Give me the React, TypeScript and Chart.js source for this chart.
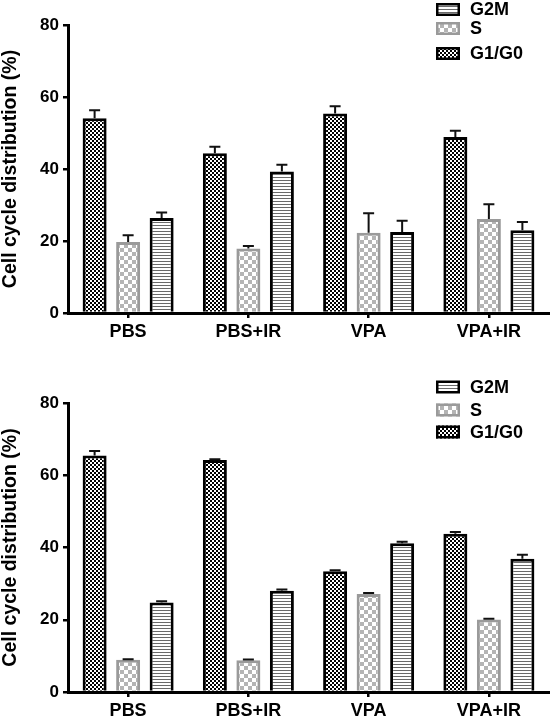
import React, { useEffect, useRef } from "react";
import { Chart, registerables } from "chart.js";

Chart.register(...registerables);

const categories = ["PBS", "PBS+IR", "VPA", "VPA+IR"];
const seriesNames = ["G1/G0", "S", "G2M"];
const yTicks = [0, 20, 40, 60, 80];
const yTitle = "Cell cycle distribution (%)";

// Upper panel
const topG1 = [54.1, 44.4, 55.4, 48.9];
const topG1Err = [2.2, 1.8, 2.0, 1.7];
const topS = [19.7, 17.9, 22.3, 26.1];
const topSErr = [1.9, 0.7, 5.4, 4.1];
const topG2M = [26.4, 39.3, 22.5, 23.0];
const topG2MErr = [1.5, 1.9, 3.1, 2.3];

// Lower panel
const botG1 = [65.5, 64.2, 33.4, 43.8];
const botG1Err = [1.2, 0.2, 0.3, 0.5];
const botS = [8.9, 8.8, 27.1, 20.1];
const botSErr = [0.2, 0.2, 0.3, 0.2];
const botG2M = [24.8, 28.0, 41.2, 36.9];
const botG2MErr = [0.3, 0.4, 0.4, 1.1];

const FONT = "'Liberation Sans', Arial, sans-serif";

function makePattern(kind: string): CanvasPattern | string {
  const c = document.createElement("canvas");
  const ctx = c.getContext("2d");
  if (!ctx) return "#888";
  if (kind === "fine") {
    c.width = 4;
    c.height = 4;
    ctx.fillStyle = "#fff";
    ctx.fillRect(0, 0, 4, 4);
    ctx.fillStyle = "#000";
    ctx.fillRect(0, 0, 2, 2);
    ctx.fillRect(2, 2, 2, 2);
  } else if (kind === "gray") {
    c.width = 8;
    c.height = 8;
    ctx.fillStyle = "#fff";
    ctx.fillRect(0, 0, 8, 8);
    ctx.fillStyle = "#b4b4b4";
    ctx.fillRect(0, 0, 4, 4);
    ctx.fillRect(4, 4, 4, 4);
  } else {
    c.width = 3;
    c.height = 3;
    ctx.fillStyle = "#fff";
    ctx.fillRect(0, 0, 3, 3);
    ctx.fillStyle = "#6a6a6a";
    ctx.fillRect(0, 0, 3, 1);
  }
  const p = ctx.createPattern(c, "repeat");
  return p || "#888";
}

const errorBarPlugin = {
  id: "errorBars",
  afterDatasetsDraw(chart: any) {
    const ctx = chart.ctx;
    const yScale = chart.scales.y;
    chart.data.datasets.forEach((ds: any, i: number) => {
      const meta = chart.getDatasetMeta(i);
      meta.data.forEach((el: any, j: number) => {
        const v = ds.data[j];
        const e = ds.errors ? ds.errors[j] : 0;
        const yTop = yScale.getPixelForValue(v + e);
        const yBar = yScale.getPixelForValue(v);
        ctx.save();
        ctx.strokeStyle = "#111";
        ctx.lineWidth = 2;
        ctx.beginPath();
        ctx.moveTo(el.x, yBar);
        ctx.lineTo(el.x, yTop);
        ctx.moveTo(el.x - 5.5, yTop);
        ctx.lineTo(el.x + 5.5, yTop);
        ctx.stroke();
        ctx.restore();
      });
    });
  },
};

const legendPlugin = {
  id: "cornerLegend",
  afterDraw(chart: any, _args: any, opts: any) {
    const ctx = chart.ctx;
    const rows = opts.rows as number[];
    const order = [2, 1, 0];
    const boxX = chart.width - 114;
    const textX = chart.width - 80;
    order.forEach((di, k) => {
      const ds = chart.data.datasets[di];
      const cy = chart.chartArea.top + rows[k];
      ctx.save();
      ctx.fillStyle = ds.backgroundColor;
      ctx.fillRect(boxX, cy - 6.5, 24, 13);
      ctx.strokeStyle = ds.borderColor;
      ctx.lineWidth = 2.5;
      ctx.strokeRect(boxX + 1.25, cy - 5.25, 21.5, 10.5);
      ctx.fillStyle = "#000";
      ctx.font = `bold 18px ${FONT}`;
      ctx.textBaseline = "middle";
      ctx.textAlign = "left";
      ctx.fillText(ds.label, textX, cy + 1);
      ctx.restore();
    });
  },
};

type PanelProps = {
  g1: number[];
  g1Err: number[];
  s: number[];
  sErr: number[];
  g2m: number[];
  g2mErr: number[];
  top: number;
  height: number;
  padTop: number;
  xHeight: number;
  rows: number[];
};

function Panel(props: PanelProps) {
  const ref = useRef<HTMLCanvasElement | null>(null);
  useEffect(() => {
    if (!ref.current) return;
    const fine = makePattern("fine");
    const gray = makePattern("gray");
    const stripes = makePattern("stripes");
    const common = {
      borderWidth: 3,
      borderSkipped: "start",
      categoryPercentage: 0.836,
      barPercentage: 0.716,
    };
    const chart = new Chart(ref.current, {
      type: "bar",
      data: {
        labels: categories,
        datasets: [
          {
            label: seriesNames[0],
            data: props.g1,
            errors: props.g1Err,
            backgroundColor: fine,
            borderColor: "#000",
            ...common,
          } as any,
          {
            label: seriesNames[1],
            data: props.s,
            errors: props.sErr,
            backgroundColor: gray,
            borderColor: "#9a9a9a",
            ...common,
          } as any,
          {
            label: seriesNames[2],
            data: props.g2m,
            errors: props.g2mErr,
            backgroundColor: stripes,
            borderColor: "#000",
            ...common,
          } as any,
        ],
      },
      options: {
        responsive: false,
        animation: false,
        devicePixelRatio: 1,
        layout: { padding: { top: props.padTop, right: 1, left: 0, bottom: 0 } },
        plugins: {
          legend: { display: false },
          tooltip: { enabled: false },
          cornerLegend: { rows: props.rows },
        } as any,
        scales: {
          x: {
            grid: {
              display: true,
              offset: false,
              drawOnChartArea: false,
              drawTicks: true,
              tickLength: 5,
              lineWidth: 2.5,
              color: "#000",
            },
            border: { display: true, color: "#000", width: 3 },
            ticks: {
              color: "#000",
              padding: 3,
              font: { family: FONT, size: 18, weight: "bold" },
            },
            afterFit: (scale: any) => {
              scale.height = props.xHeight;
            },
          },
          y: {
            min: 0,
            max: 80,
            afterBuildTicks: (scale: any) => {
              scale.ticks = yTicks.map((v) => ({ value: v }));
            },
            grid: {
              display: true,
              drawOnChartArea: false,
              drawTicks: true,
              tickLength: 5,
              lineWidth: 2.5,
              color: "#000",
            },
            border: { display: true, color: "#000", width: 3 },
            ticks: {
              color: "#000",
              padding: 4,
              font: { family: FONT, size: 17, weight: "bold" },
            },
            title: {
              display: true,
              text: yTitle,
              color: "#000",
              padding: 0,
              font: { family: FONT, size: 19.5, weight: "bold", lineHeight: 1.1 },
            },
            afterFit: (scale: any) => {
              scale.width = 68;
            },
          },
        },
      },
      plugins: [errorBarPlugin, legendPlugin],
    } as any);
    return () => chart.destroy();
  }, []);
  return (
    <canvas
      ref={ref}
      width={550}
      height={props.height}
      style={{ position: "absolute", left: 0, top: props.top, width: 550, height: props.height }}
    />
  );
}

export default function App() {
  return (
    <div style={{ position: "fixed", left: 0, top: 0, width: 550, height: 717, background: "#fff" }}>
      <Panel
        g1={topG1}
        g1Err={topG1Err}
        s={topS}
        sErr={topSErr}
        g2m={topG2M}
        g2mErr={topG2MErr}
        top={0}
        height={358}
        padTop={25}
        xHeight={45}
        rows={[-15.5, 3.5, 28.5]}
      />
      <Panel
        g1={botG1}
        g1Err={botG1Err}
        s={botS}
        sErr={botSErr}
        g2m={botG2M}
        g2mErr={botG2MErr}
        top={358}
        height={359}
        padTop={45}
        xHeight={25}
        rows={[-16, 7, 29]}
      />
    </div>
  );
}
